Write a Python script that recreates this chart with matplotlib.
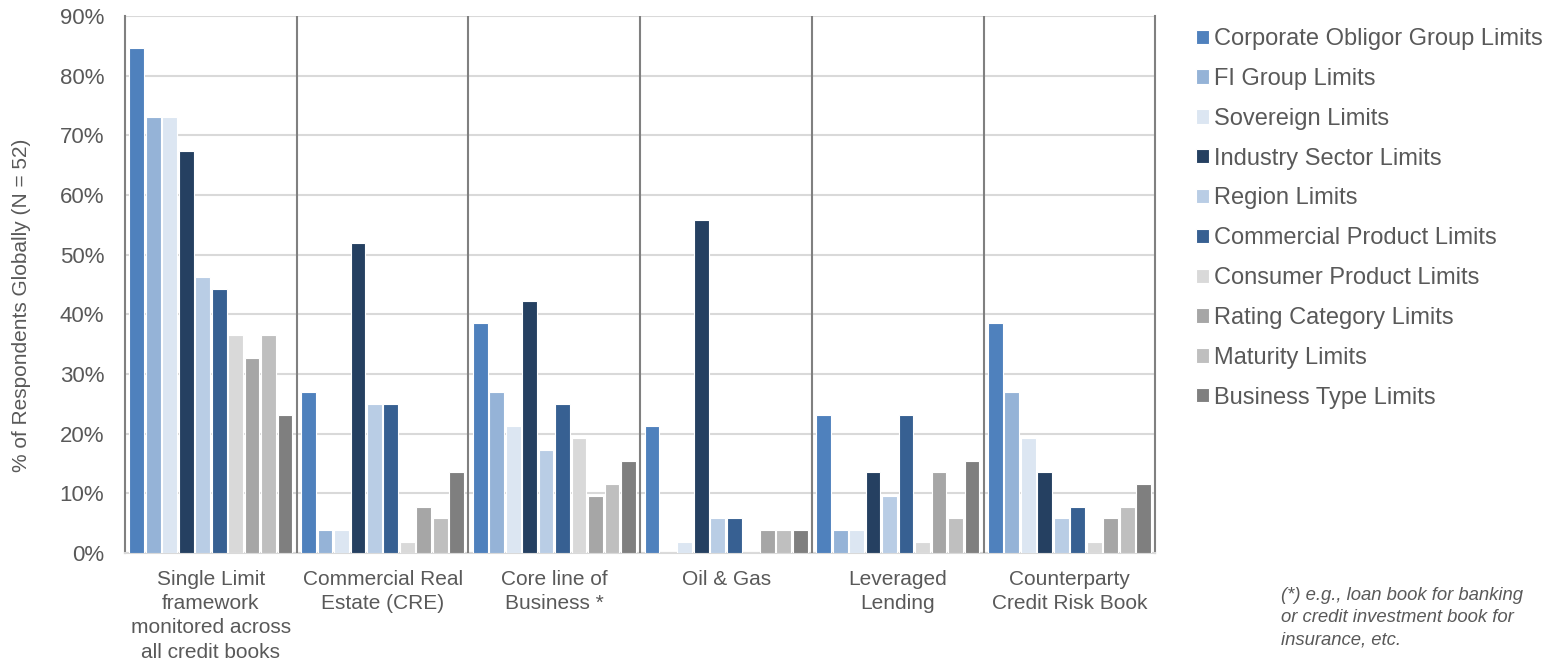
import matplotlib.pyplot as plt
import numpy as np

plt.rcParams['font.family'] = ['Liberation Sans', 'DejaVu Sans']

groups = ['Single Limit\nframework\nmonitored across\nall credit books',
          'Commercial Real\nEstate (CRE)',
          'Core line of\nBusiness *',
          'Oil & Gas',
          'Leveraged\nLending',
          'Counterparty\nCredit Risk Book']

series = ['Corporate Obligor Group Limits', 'FI Group Limits', 'Sovereign Limits',
          'Industry Sector Limits', 'Region Limits', 'Commercial Product Limits',
          'Consumer Product Limits', 'Rating Category Limits', 'Maturity Limits',
          'Business Type Limits']

colors = ['#4F81BD', '#95B3D7', '#DCE6F2', '#254061', '#B9CDE5', '#376092',
          '#D9D9D9', '#A6A6A6', '#BFBFBF', '#7F7F7F']

# share of respondents (%), one list per limit type, ordered like groups
corporate = [84.6, 26.9, 38.5, 21.2, 23.1, 38.5]
fi_group = [73.1, 3.8, 26.9, 0.0, 3.8, 26.9]
sovereign = [73.1, 3.8, 21.2, 1.9, 3.8, 19.2]
industry = [67.3, 51.9, 42.3, 55.8, 13.5, 13.5]
region = [46.2, 25.0, 17.3, 5.8, 9.6, 5.8]
commercial = [44.2, 25.0, 25.0, 5.8, 23.1, 7.7]
consumer = [36.5, 1.9, 19.2, 0.0, 1.9, 1.9]
rating = [32.7, 7.7, 9.6, 3.8, 13.5, 5.8]
maturity = [36.5, 5.8, 11.5, 3.8, 5.8, 7.7]
business = [23.1, 13.5, 15.4, 3.8, 15.4, 11.5]

values = [corporate, fi_group, sovereign, industry, region, commercial,
          consumer, rating, maturity, business]

text_col = '#595959'

fig = plt.figure(figsize=(15.53, 6.67), dpi=100)
ax = fig.add_axes([0.0805, 0.171, 0.6635, 0.805])

x = np.arange(len(groups))
slot = 0.096
for j, (name, vals) in enumerate(zip(series, values)):
    ax.bar(x + (j - 4.5) * slot, vals, width=0.086, color=colors[j],
           edgecolor='white', linewidth=0.8, label=name, zorder=3)

ax.set_xlim(-0.5, 5.5)
ax.set_ylim(0, 90)
ax.set_yticks(np.arange(0, 91, 10))
ax.set_yticklabels([f'{v}%' for v in range(0, 91, 10)])
ax.yaxis.grid(True, color='#D9D9D9', linewidth=1.5, zorder=0)
ax.set_axisbelow(True)

# group separators
for s in np.arange(0.5, 5, 1):
    ax.axvline(s, color='#808080', linewidth=1.5, zorder=4)

for side in ['left', 'right']:
    ax.spines[side].set_color('#808080')
    ax.spines[side].set_linewidth(1.5)
ax.spines['top'].set_visible(False)
ax.spines['bottom'].set_color('#D9D9D9')
ax.spines['bottom'].set_linewidth(1.5)

ax.set_xticks(x)
ax.set_xticklabels(groups, linespacing=1.36)
ax.tick_params(axis='x', length=0, pad=12, labelsize=15, labelcolor=text_col)
ax.tick_params(axis='y', length=0, pad=15, labelsize=16, labelcolor=text_col)

ax.set_ylabel('% of Respondents Globally (N = 52)', fontsize=15, color=text_col)
ax.yaxis.set_label_coords(-0.091, 0.462)

leg = ax.legend(loc='upper left', bbox_to_anchor=(1.0305, 0.995), frameon=False,
                fontsize=17, handlelength=0.55, handleheight=0.55, handletextpad=0.18,
                labelspacing=0.755, borderaxespad=0)
for t in leg.get_texts():
    t.set_color(text_col)

fig.text(0.825, 0.12, '(*) e.g., loan book for banking\nor credit investment book for\ninsurance, etc.',
         fontsize=13.3, style='italic', color=text_col, va='top', ha='left', linespacing=1.42)

fig.savefig('out.png', dpi=100)
